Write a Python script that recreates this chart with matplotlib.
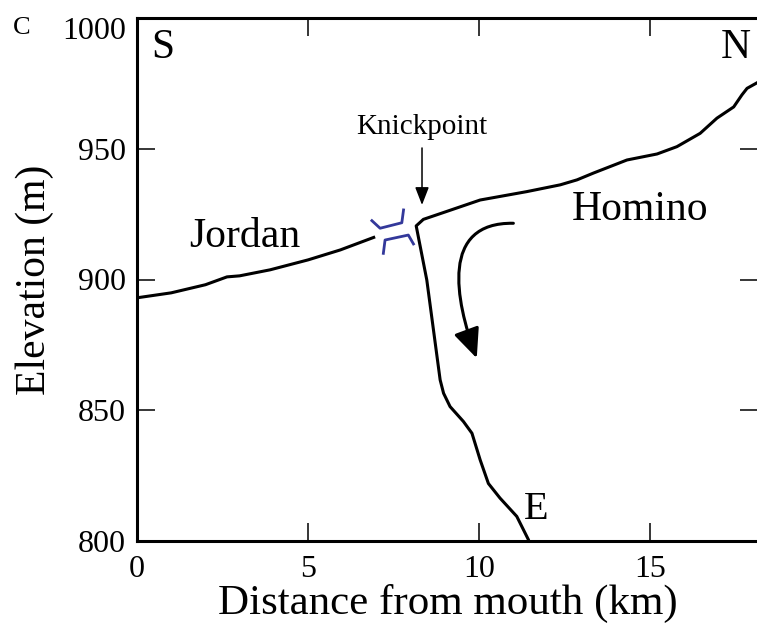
import matplotlib.pyplot as plt
import matplotlib.transforms as mtransforms
from matplotlib.patches import FancyArrowPatch
from matplotlib.path import Path

plt.rcParams["font.family"] = ["Liberation Serif", "DejaVu Serif"]

# Jordan profile (km, m)
jordan_km = [0, 1.0, 2.0, 2.63, 3.0, 3.89, 5.0, 5.94, 6.96]
jordan_elev = [893, 894.9, 898, 901, 901.4, 903.7, 907.5, 911.3, 916.3]

# Homino profile, from E end up through the knickpoint to N
homino_km = [11.5, 11.44, 11.1, 10.61, 10.27, 10.03, 9.79, 9.54, 9.15, 8.96, 8.86,
             8.47, 8.16, 8.37, 9.0, 10.03, 11.39, 12.37, 12.86, 13.34, 13.83,
             14.32, 15.2, 15.78, 16.46, 16.95, 17.44, 17.68, 17.83, 18.2]
homino_elev = [798, 800.5, 809.4, 816.4, 822, 831, 841.2, 845.7, 851.4, 856.5, 861.6,
               899.8, 920.5, 923, 925.8, 930.4, 933.6, 936.2, 938.1, 940.7, 943.2,
               945.7, 948, 950.8, 955.9, 961.7, 966, 970.6, 973.1, 975.8]

# blue gap symbol (two brackets)
gap_upper_km = [6.865, 7.105, 7.74, 7.79]
gap_upper_elev = [922.5, 919.6, 921.7, 926.6]
gap_lower_km = [7.2, 7.25, 7.93, 8.08]
gap_lower_elev = [910.0, 915.1, 917.0, 913.6]

x_ticks = [0, 5, 10, 15]
y_ticks = [800, 850, 900, 950, 1000]

fig = plt.figure(figsize=(7.57, 6.26), dpi=100)
ax = fig.add_axes([137 / 757, 85 / 626, 621 / 757, 523 / 626])

ax.plot(jordan_km, jordan_elev, color="black", lw=2.2, solid_capstyle="butt",
        solid_joinstyle="round")
ax.plot(homino_km, homino_elev, color="black", lw=2.2, solid_joinstyle="round")
ax.plot(gap_upper_km, gap_upper_elev, color="#33389a", lw=2.0)
ax.plot(gap_lower_km, gap_lower_elev, color="#33389a", lw=2.0)

# knickpoint label + arrow
ax.annotate("", xy=(8.33, 928.5), xytext=(8.33, 950.3),
            arrowprops=dict(arrowstyle="-|>,head_length=0.9,head_width=0.35",
                            color="black", lw=1.1, mutation_scale=12,
                            shrinkA=0, shrinkB=0))
ax.text(8.33, 958.3, "Knickpoint", fontsize=21, ha="center", va="center")

# curved capture arrow
curve = Path([(11.0, 921.5), (8.86, 922.0), (9.30, 892.2), (9.93, 869.9)],
             [Path.MOVETO, Path.CURVE4, Path.CURVE4, Path.CURVE4])
ax.add_patch(FancyArrowPatch(path=curve,
                             arrowstyle="-|>,head_length=0.72,head_width=0.32",
                             mutation_scale=25, color="black", lw=2.2))

# labels inside plot
ax.text(3.16, 916.3, "Jordan", fontsize=30, ha="center", va="center")
ax.text(14.71, 926.6, "Homino", fontsize=30, ha="center", va="center")
ax.text(0.76, 988.5, "S", fontsize=30, ha="center", va="center")
ax.text(17.49, 988.5, "N", fontsize=30, ha="center", va="center")
ax.text(11.67, 811.9, "E", fontsize=29, ha="center", va="center")
fig.text(0.028, 0.955, "C", fontsize=19, ha="center", va="center")

ax.set_xlim(0, 18.15)
ax.set_ylim(800, 1000)
ax.set_xticks(x_ticks)
ax.set_yticks(y_ticks)
ax.tick_params(direction="in", length=13, width=1.1, top=True, right=True,
               labelsize=23, pad=8)
ax.tick_params(axis="x", pad=10)
for s in ax.spines.values():
    s.set_linewidth(2.2)

# top "1000" label sits a bit lower in the original
top_lbl = ax.yaxis.get_major_ticks()[-1].label1
top_lbl.set_transform(top_lbl.get_transform() +
                      mtransforms.ScaledTranslation(0, -7 / 72, fig.dpi_scale_trans))

ax.set_xlabel("Distance from mouth (km)", fontsize=31, labelpad=0)
ax.set_ylabel("Elevation (m)", fontsize=30, labelpad=6)

plt.savefig("out.png", dpi=100)
